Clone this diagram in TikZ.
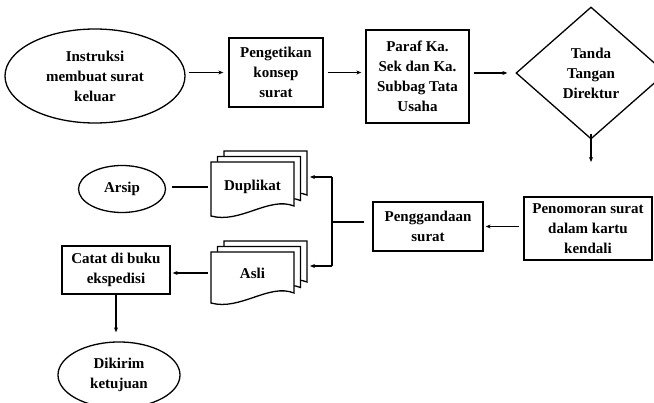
\documentclass[tikz,border=0pt]{standalone}
\usepackage{fontspec}
\setmainfont{Liberation Serif}
\usetikzlibrary{shapes.geometric,arrows.meta}
\newcommand\docsheet[4]{%
  \draw[line width=1.3pt,fill=white] (#1,#2) -- ({#1+#3},#2) -- ({#1+#3},{#2+#4-12})
    .. controls ({#1+0.7*#3},{#2+#4-22}) and ({#1+0.35*#3},{#2+#4+6}) .. (#1,{#2+#4-2}) -- cycle;}
\begin{document}
\begin{tikzpicture}[x=1pt,y=-1pt,
  every node/.style={font=\bfseries\fontsize{15}{20}\selectfont,align=center,inner sep=1pt},
  box/.style={draw,line width=1.3pt,rectangle},
  oval/.style={draw,line width=1.3pt,ellipse,inner sep=0pt},
  dia/.style={draw,line width=1.3pt,diamond,inner sep=0pt},
  conn/.style={line width=1.3pt},
  arr/.style={conn,-{Stealth[length=5pt,width=4pt]}},
]
\useasboundingbox (0,0) rectangle (654,403);
% top row
\node[oval,minimum width=180pt,minimum height=94pt] (ins) at (95,76) {Instruksi\\membuat surat\\keluar};
\node[box,minimum width=94pt,minimum height=69pt] (peng) at (276,72.5) {Pengetikan\\konsep\\surat};
\node[box,minimum width=103pt,minimum height=93pt] (paraf) at (417.5,76.5) {Paraf Ka.\\Sek dan Ka.\\Subbag Tata\\Usaha};
\node[dia,minimum width=150pt,minimum height=132pt] (ttd) at (591,73) {Tanda\\Tangan\\Direktur};
\coordinate (ttdend) at (591,162);
% middle right
\node[box,minimum width=128pt,minimum height=63pt] (nomor) at (588,228.5) {Penomoran surat\\dalam kartu\\kendali};
\node[box,minimum width=110pt,minimum height=49pt] (ganda) at (428,226.5) {Penggandaan\\surat};
% document stacks
\docsheet{224}{151}{83}{56}
\docsheet{217.5}{156.5}{83}{56}
\docsheet{211}{162}{83}{56}
\node[minimum width=83pt,minimum height=50pt] (dup) at (252.5,187) {Duplikat};
\docsheet{224}{241}{83}{53}
\docsheet{217.5}{246.5}{83}{53}
\docsheet{211}{252}{83}{53}
\node[minimum width=83pt,minimum height=44pt] (asli) at (252.5,273) {Asli};
% bracket
\coordinate (bt) at (332,177);
\coordinate (bb) at (332,266);
\coordinate (bm) at (332,222);
\coordinate (dupr) at (310,177);
\coordinate (aslir) at (310,266);
% left
\node[oval,minimum width=87pt,minimum height=47pt] (arsip) at (122,189) {Arsip};
\node[box,minimum width=108pt,minimum height=48pt] (catat) at (116,270) {Catat di buku\\ekspedisi};
\node[oval,minimum width=122pt,minimum height=66pt] (kirim) at (119,375) {Dikirim\\ketujuan};
% connectors
\draw[arr,shorten <=3pt,shorten >=5pt] (ins.east |- peng.west) -- (peng.west);
\draw[arr,shorten <=4pt,shorten >=4pt] (peng.east) -- (peng.east -| paraf.west);
\draw[arr,shorten <=4pt,shorten >=8pt] (paraf.east |- ttd.west) -- (ttd.west);
\draw[arr,shorten <=-6pt] (ttd.south) -- (ttdend);
\draw[arr,shorten <=4pt,shorten >=2pt] (nomor.west |- ganda.east) -- (ganda.east);
\draw[conn,shorten <=8pt] (ganda.west |- bm) -- (bm);
\draw[conn] (bt) -- (bb);
\draw[arr] (bt) -- (dupr);
\draw[arr] (bb) -- (aslir);
\draw[conn,shorten <=6pt,shorten >=3pt] (arsip.east |- dup.west) -- (dup.west);
\draw[arr,shorten <=3pt,shorten >=2pt] (asli.west) -- (asli.west -| catat.east);
\draw[arr,shorten >=9pt] (catat.south) -- (catat.south |- kirim.north);
\end{tikzpicture}
\end{document}
